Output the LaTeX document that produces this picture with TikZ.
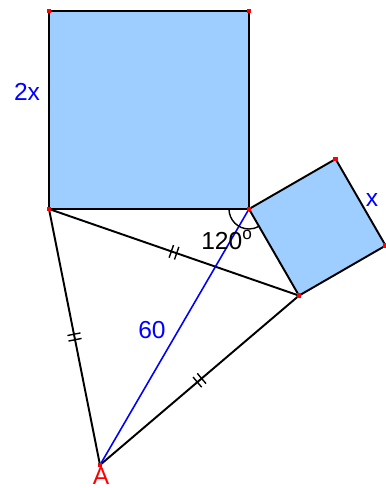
\documentclass[tikz,border=0pt]{standalone}
\usepackage{amsmath}
\usepackage{fontspec}
\setmainfont{Liberation Sans}
\usetikzlibrary{decorations.markings,calc}
\definecolor{sqblue}{RGB}{158,206,255}

\begin{document}
\begin{tikzpicture}[x=2cm, y=2cm,
        side/.style={line width=1.1pt, line join=round},
        eqside/.style={side, postaction={decorate}, decoration={markings,
            mark=at position 0.5 with {\draw[line width=0.8pt] (-1.6pt,-3.8pt) -- (-1.6pt,3.8pt);
                                       \draw[line width=0.8pt] (1.6pt,-3.8pt) -- (1.6pt,3.8pt);}}},
        vdot/.style={fill=red, minimum size=2.6pt, inner sep=0pt},
        lbl/.style={font=\fontsize{14}{16}\selectfont}]
        \useasboundingbox (-2.49,-2.79) rectangle (1.37,2.09);
        % Vertexs: quadrat gran (costat 2x) i quadrat petit (costat x)
        \coordinate (C) at (0,0);
        \coordinate (B) at (-2,0);
        \coordinate (BT) at (-2,1.98);
        \coordinate (CT) at (0,1.98);
        \coordinate (P) at (-60:1);
        \coordinate (Q) at (30:1);
        \coordinate (R) at ($(P)+(Q)-(C)$);
        \coordinate (A) at (-1.49,-2.56);
        \fill[sqblue] (B) -- (C) -- (CT) -- (BT) -- cycle;
        \fill[sqblue] (C) -- (Q) -- (R) -- (P) -- cycle;
        \draw[side] (B) -- (C) -- (CT) -- (BT) -- cycle;
        \draw[side] (C) -- (Q) -- (R) -- (P) -- cycle;
        % Triangle equilater
        \draw[eqside] (B) -- (P);
        \draw[eqside] (P) -- (A);
        \draw[eqside] (B) -- (A);
        \draw[blue, line width=0.9pt] (A) -- (C);
        \draw[line width=0.8pt] (C) ++(180:0.2) arc (180:300:0.2); % Angle
        \foreach \v in {B,BT,CT,C,Q,R,P,A}
            \node[vdot] at (\v) {};
        \node[lbl, blue] (lbl2x) at (-2.22,1.17) {2x};
        \node[lbl, blue] (lblx) at (1.23,0.09) {x};
        \node[lbl] (lblang) at (-0.22,-0.31) {120\textsuperscript{o}};
        \node[lbl, blue] (lbl60) at (-0.97,-1.21) {60};
        \node[lbl, red] (lblA) at (-1.48,-2.67) {A};
    \end{tikzpicture}
\end{document}
